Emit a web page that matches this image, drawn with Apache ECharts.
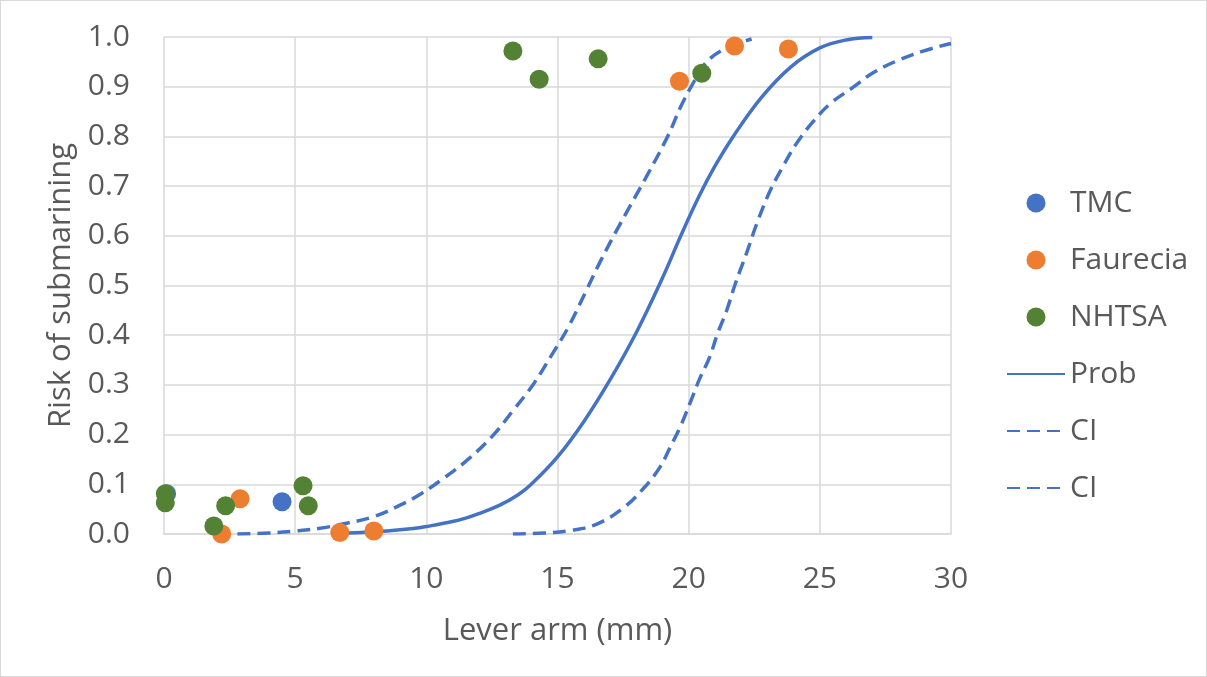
<!DOCTYPE html>
<html>
<head>
<meta charset="utf-8">
<style>
  html, body { margin: 0; padding: 0; background: #fff; }
  #main { width: 1205px; height: 675px; border: 1px solid #D9D9D9; }
</style>
</head>
<body>
<div id="main"></div>
<script src="https://cdn.jsdelivr.net/npm/echarts@6/dist/echarts.min.js"></script>
<script>
    // measured points [lever arm mm, risk]
    var tmc = [[0.1, 0.081], [4.5, 0.065]];
    var faurecia = [[2.2, 0.0], [2.9, 0.071], [6.7, 0.003], [8.0, 0.006],
        [19.65, 0.911], [21.75, 0.982], [23.8, 0.976]];
    var nhtsa = [[0.05, 0.081], [0.05, 0.063], [1.9, 0.016], [2.35, 0.057],
        [5.3, 0.097], [5.5, 0.057], [13.3, 0.972], [14.3, 0.915],
        [16.55, 0.956], [20.5, 0.927]];

    // fitted curve and confidence bounds
    var prob = [[6.5, 0.001], [7.5, 0.003], [8.5, 0.006], [9.5, 0.011], [10, 0.015],
        [11, 0.025], [11.5, 0.032], [12, 0.041], [12.8, 0.058], [13.5, 0.079],
        [14, 0.1], [15, 0.155], [16, 0.226], [17, 0.31], [18, 0.405],
        [19, 0.515], [19.7, 0.6], [20.4, 0.68], [21, 0.74], [21.7, 0.8],
        [22.8, 0.88], [23.9, 0.94], [25, 0.978], [26, 0.994], [27, 0.999]];
    var ciUpper = [[2.8, 0.0], [4, 0.002], [5, 0.006], [6, 0.012], [7, 0.022],
        [8, 0.035], [9, 0.058], [9.8, 0.081], [10.6, 0.11], [11.5, 0.146],
        [12.5, 0.196], [13.3, 0.248], [14.1, 0.303], [14.8, 0.362], [15.4, 0.415],
        [16.1, 0.49], [16.6, 0.545], [17.4, 0.625], [18.4, 0.72], [19.2, 0.8],
        [19.7, 0.86], [20.2, 0.91], [20.6, 0.945], [21.3, 0.974], [22.4, 0.996]];
    var ciLower = [[13.3, 0.0], [14.5, 0.002], [15.5, 0.007], [16.5, 0.02],
        [17.5, 0.052], [18.3, 0.093], [18.9, 0.134], [19.3, 0.175], [19.7, 0.218],
        [20.1, 0.27], [20.4, 0.31], [20.8, 0.356], [21.1, 0.403], [21.45, 0.45],
        [21.8, 0.507], [22.2, 0.564], [22.6, 0.625], [23.1, 0.69], [23.6, 0.74],
        [24.1, 0.785], [24.75, 0.83], [25.4, 0.866], [26.3, 0.9], [27, 0.927],
        [27.9, 0.951], [28.9, 0.971], [30, 0.987]];

    var font = '"Open Sans", "Noto Sans", sans-serif';
    var txt = '#595959';
    var blue = '#4472C4';
    var noDot = {opacity: 0};

    var myChart = echarts.init(document.getElementById('main'));

    var option = {
        animation: false,
        backgroundColor: '#FFFFFF',
        textStyle: {fontFamily: font},
        grid: {left: 163, right: 255, top: 36, bottom: 142},
        legend: {
            orient: 'vertical',
            left: 1000,
            top: 182,
            itemWidth: 58,
            itemHeight: 19,
            itemGap: 27,
            textStyle: {color: txt, fontSize: 30, fontFamily: font},
            data: [
                'TMC', 'Faurecia', 'NHTSA',
                {name: 'Prob', itemStyle: noDot},
                {name: 'CI', itemStyle: noDot},
                {name: 'CI ', itemStyle: noDot}
            ]
        },
        xAxis: {
            type: 'value',
            min: 0,
            max: 30,
            interval: 5,
            name: 'Lever arm (mm)',
            nameLocation: 'middle',
            nameGap: 82,
            nameTextStyle: {color: txt, fontSize: 31},
            axisLine: {lineStyle: {color: '#D9D9D9', width: 1.5}},
            axisTick: {show: false},
            axisLabel: {color: txt, fontSize: 30, margin: 30},
            splitLine: {lineStyle: {color: '#D9D9D9', width: 1.5}}
        },
        yAxis: {
            type: 'value',
            min: 0,
            max: 1,
            interval: 0.1,
            name: 'Risk of submarining',
            nameLocation: 'middle',
            nameGap: 86,
            nameRotate: 90,
            nameTextStyle: {color: txt, fontSize: 31},
            axisLine: {show: false},
            axisTick: {show: false},
            axisLabel: {
                color: txt, fontSize: 30, margin: 34,
                formatter: function (v) { return v.toFixed(1); }
            },
            splitLine: {lineStyle: {color: '#D9D9D9', width: 1.5}}
        },
        series: [
            {
                name: 'TMC', type: 'scatter', data: tmc, z: 5,
                symbolSize: 19, itemStyle: {color: '#4472C4', opacity: 1}
            },
            {
                name: 'Faurecia', type: 'scatter', data: faurecia, z: 5,
                symbolSize: 19, itemStyle: {color: '#ED7D31', opacity: 1}
            },
            {
                name: 'NHTSA', type: 'scatter', data: nhtsa, z: 5,
                symbolSize: 19, itemStyle: {color: '#548235', opacity: 1}
            },
            {
                name: 'Prob', type: 'line', data: prob, z: 3,
                symbol: 'none', smooth: 0.4,
                lineStyle: {color: blue, width: 3.5}, itemStyle: {color: blue}
            },
            {
                name: 'CI', type: 'line', data: ciUpper, z: 3,
                symbol: 'none', smooth: 0.4,
                lineStyle: {color: blue, width: 3.5, type: [13, 7]}, itemStyle: {color: blue}
            },
            {
                name: 'CI ', type: 'line', data: ciLower, z: 3,
                symbol: 'none', smooth: 0.4,
                lineStyle: {color: blue, width: 3.5, type: [13, 7]}, itemStyle: {color: blue}
            }
        ]
    };

    myChart.setOption(option);
</script>
</body>
</html>
